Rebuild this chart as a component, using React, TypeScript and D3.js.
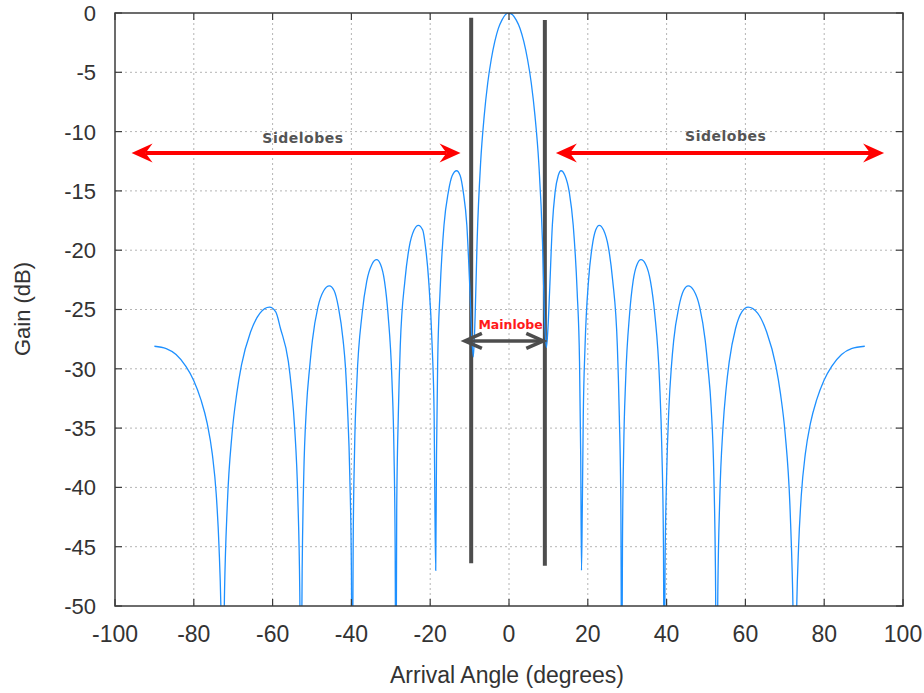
import React from 'react';
import * as d3 from 'd3';

// ---- data ----
const xTicks = [-100, -80, -60, -40, -20, 0, 20, 40, 60, 80, 100];
const yTicks = [0, -5, -10, -15, -20, -25, -30, -35, -40, -45, -50];

// [arrival angle (deg), gain (dB)] samples of the pattern, lobe by lobe
const leftEdgeLobe: [number, number][] = [
  [-90, -28.1], [-87, -28.3], [-84.5, -28.8], [-82, -29.8], [-80, -31.0], [-78.2, -32.6],
  [-76.6, -34.6], [-75.3, -37.2], [-74.3, -40.6], [-73.6, -45.0], [-73.1, -50.5], [-72.7, -60],
];
const leftLobe5: [number, number][] = [
  [-72.2, -48.8], [-71.5, -41.5], [-70.3, -35.5], [-69.1, -32.1], [-67.9, -29.7], [-65.6, -26.9],
  [-63.2, -25.3], [-60.8, -24.8], [-59.2, -25.2], [-58.0, -26.6], [-56.0, -29.4], [-55.2, -31.7],
  [-54.4, -35.0], [-53.6, -40.9], [-53.1, -48.8], [-52.8, -60],
];
const leftLobe4: [number, number][] = [
  [-52.5, -47.0], [-52.1, -39.1], [-51.4, -33.2], [-50.6, -29.9], [-49.9, -27.6], [-48.5, -24.8],
  [-47.0, -23.4], [-45.6, -23.0], [-44.4, -23.4], [-43.3, -24.8], [-42.1, -27.6], [-41.5, -29.9],
  [-41.0, -33.2], [-40.4, -39.1], [-40.0, -47.0], [-39.8, -60],
];
const leftLobe3: [number, number][] = [
  [-39.55, -44.8], [-39.2, -36.9], [-38.6, -31.0], [-37.3, -25.4], [-36.1, -22.6], [-34.8, -21.2],
  [-33.6, -20.8], [-32.6, -21.2], [-31.6, -22.6], [-30.7, -25.4], [-29.7, -31.0], [-29.2, -36.9],
  [-28.9, -44.8], [-28.7, -60],
];
const leftLobe2: [number, number][] = [
  [-28.5, -41.9], [-28.1, -34.0], [-27.6, -28.1], [-26.4, -22.5], [-25.3, -19.7], [-24.1, -18.3],
  [-23.0, -17.9], [-21.9, -18.3], [-21.2, -19.7], [-20.4, -22.5], [-19.5, -28.1], [-19.0, -34.0],
  [-18.8, -41.9], [-18.6, -47.0],
];
const leftLobe1: [number, number][] = [
  [-18.4, -37.3], [-18.1, -29.4], [-17.5, -23.5], [-16.5, -17.9], [-15.4, -15.1], [-14.4, -13.7],
  [-13.3, -13.3], [-12.4, -13.7], [-11.6, -15.1], [-10.7, -17.9], [-9.9, -23.5], [-9.4, -27.5],
  [-9.05, -29.0],
];
const mainLobe: [number, number][] = [
  [-8.6, -25.6], [-8.1, -19.3], [-7.2, -12.6], [-6.3, -8.7], [-5.4, -5.9], [-4.5, -3.9],
  [-3.6, -2.4], [-2.7, -1.3], [-1.8, -0.6], [-0.9, -0.14], [-0.1, 0], [0.9, -0.14], [1.85, -0.6],
  [2.8, -1.3], [3.75, -2.4], [4.7, -3.9], [5.65, -5.9], [6.6, -8.7], [7.55, -12.6], [8.5, -19.3],
  [9.0, -25.6], [9.5, -28.2],
];
const rightLobe1: [number, number][] = [
  [9.9, -26.5], [10.3, -23.5], [11.0, -17.9], [11.7, -15.1], [12.5, -13.7], [13.2, -13.3],
  [14.2, -13.7], [15.3, -15.1], [16.3, -17.9], [17.3, -23.5], [17.9, -29.4], [18.2, -37.3],
  [18.4, -47.0],
];
const rightLobe2: [number, number][] = [
  [18.6, -41.9], [18.85, -34.0], [19.3, -28.1], [20.2, -22.5], [21.1, -19.7], [22.0, -18.3],
  [22.9, -17.9], [24.0, -18.3], [25.2, -19.7], [26.3, -22.5], [27.5, -28.1], [28.0, -34.0],
  [28.4, -41.9], [28.6, -60],
];
const rightLobe3: [number, number][] = [
  [28.8, -44.8], [29.1, -36.9], [29.6, -31.0], [30.6, -25.4], [31.5, -22.6], [32.5, -21.2],
  [33.5, -20.8], [34.7, -21.2], [35.9, -22.6], [37.0, -25.4], [38.2, -31.0], [38.8, -36.9],
  [39.2, -44.8], [39.4, -60],
];
const rightLobe4: [number, number][] = [
  [39.6, -47.0], [40.0, -39.1], [40.6, -33.2], [41.2, -29.9], [41.8, -27.6], [43.1, -24.8],
  [44.3, -23.4], [45.5, -23.0], [46.9, -23.4], [48.4, -24.8], [49.8, -27.6], [50.5, -29.9],
  [51.3, -33.2], [52.0, -39.1], [52.4, -47.0], [52.7, -60],
];
const rightLobe5: [number, number][] = [
  [53.0, -48.8], [53.5, -40.9], [54.3, -35.0], [55.1, -31.7], [55.9, -29.4], [57.5, -26.6],
  [59.1, -25.2], [60.7, -24.8], [63.1, -25.3], [65.4, -26.9], [67.7, -29.7], [68.9, -32.1],
  [70.1, -35.5], [71.3, -41.5], [72.0, -48.8], [72.6, -60],
];
const rightEdgeLobe: [number, number][] = [
  [73.0, -50.5], [73.5, -45.0], [74.2, -40.6], [75.2, -37.2], [76.5, -34.6], [78.1, -32.6],
  [79.9, -31.0], [81.9, -29.8], [84.4, -28.8], [86.9, -28.3], [90.3, -28.1],
];

// Annotations (in data units)
const markerAngles = [-9.6, 9.1];
const markerTops = [-0.4, -0.6];
const markerBottoms = [-46.4, -46.6];

const sidelobeFrom = [-95.8, 11.9];
const sidelobeTo = [-12.3, 95.2];
const sidelobeLevel = -11.8;
const sidelobeLabelAngles = [-52.3, 55.0];
const sidelobeLabelLevels = [-11.0, -10.8];

const mainlobeFrom = -11.2;
const mainlobeTo = 8.7;
const mainlobeLevel = -27.65;
const mainlobeLabelAngle = 0.4;
const mainlobeLabelLevel = -26.67;

const W = 924;
const H = 693;
const M = { left: 115, right: 903, top: 13, bottom: 606 };

export default function App() {
  const x = d3.scaleLinear().domain([-100, 100]).range([M.left, M.right]);
  const y = d3.scaleLinear().domain([-50, 0]).range([M.bottom, M.top]);

  const pts: [number, number][] = [
    ...leftEdgeLobe, ...leftLobe5, ...leftLobe4, ...leftLobe3, ...leftLobe2, ...leftLobe1,
    ...mainLobe,
    ...rightLobe1, ...rightLobe2, ...rightLobe3, ...rightLobe4, ...rightLobe5, ...rightEdgeLobe,
  ];
  const line = d3
    .line<[number, number]>()
    .x((d) => x(d[0]))
    .y((d) => y(d[1]))
    .curve(d3.curveMonotoneX);

  const axisColor = '#3c3c3c';
  const gridColor = '#b4b4b4';
  const tickLen = 7;
  const font = '"Liberation Sans", Arial, sans-serif';
  const boldFont = '"DejaVu Sans", Verdana, sans-serif';

  const redHead = (tipX: number, tipY: number, dir: number) => {
    const L = 21;
    const Wd = 9.5;
    const N = 14;
    return `M${tipX},${tipY} L${tipX - dir * L},${tipY - Wd} L${tipX - dir * N},${tipY} L${tipX - dir * L},${tipY + Wd} Z`;
  };
  const grayHead = (tipX: number, tipY: number, dir: number) => {
    const L = 17;
    const Wd = 7.5;
    return `M${tipX - dir * L},${tipY - Wd} L${tipX},${tipY} L${tipX - dir * L},${tipY + Wd}`;
  };

  return (
    <svg
      width={W}
      height={H}
      style={{ position: 'absolute', left: 0, top: 0, display: 'block', background: '#fff' }}
    >
      <defs>
        <clipPath id="plotClip">
          <rect x={M.left} y={M.top} width={M.right - M.left} height={M.bottom - M.top} />
        </clipPath>
      </defs>

      {/* grid */}
      <g stroke={gridColor} strokeWidth={1} strokeDasharray="2,3">
        {xTicks
          .filter((t) => t !== -100 && t !== 100)
          .map((t) => (
            <line key={'gx' + t} x1={x(t)} x2={x(t)} y1={M.top} y2={M.bottom} />
          ))}
        {yTicks
          .filter((t) => t !== 0 && t !== -50)
          .map((t) => (
            <line key={'gy' + t} x1={M.left} x2={M.right} y1={y(t)} y2={y(t)} />
          ))}
      </g>

      {/* mainlobe boundary markers */}
      <g stroke="#4d4d4d" strokeWidth={4}>
        {markerAngles.map((a, i) => (
          <line key={'m' + i} x1={x(a)} x2={x(a)} y1={y(markerTops[i])} y2={y(markerBottoms[i])} />
        ))}
      </g>

      {/* gain curve */}
      <path
        d={line(pts) || ''}
        fill="none"
        stroke="#1e90ff"
        strokeWidth={1.3}
        clipPath="url(#plotClip)"
      />

      {/* frame */}
      <rect
        x={M.left}
        y={M.top}
        width={M.right - M.left}
        height={M.bottom - M.top}
        fill="none"
        stroke={axisColor}
        strokeWidth={1.5}
      />

      {/* ticks */}
      <g stroke={axisColor} strokeWidth={1.2}>
        {xTicks.map((t) => (
          <g key={'tx' + t}>
            <line x1={x(t)} x2={x(t)} y1={M.bottom} y2={M.bottom - tickLen} />
            <line x1={x(t)} x2={x(t)} y1={M.top} y2={M.top + tickLen} />
          </g>
        ))}
        {yTicks.map((t) => (
          <g key={'ty' + t}>
            <line x1={M.left} x2={M.left + tickLen} y1={y(t)} y2={y(t)} />
            <line x1={M.right} x2={M.right - tickLen} y1={y(t)} y2={y(t)} />
          </g>
        ))}
      </g>

      {/* tick labels */}
      <g fontFamily={font} fontSize={23} fill="#333">
        {xTicks.map((t) => (
          <text key={'lx' + t} x={x(t)} y={642} textAnchor="middle">
            {t}
          </text>
        ))}
      </g>
      <g fontFamily={font} fontSize={22} fill="#333">
        {yTicks.map((t) => (
          <text key={'ly' + t} x={96} y={y(t)} dy="0.36em" textAnchor="end">
            {t}
          </text>
        ))}
      </g>

      {/* axis titles */}
      <text x={507} y={683} textAnchor="middle" fontFamily={font} fontSize={23} fill="#333">
        Arrival Angle (degrees)
      </text>
      <text
        transform="translate(30,309) rotate(-90)"
        textAnchor="middle"
        fontFamily={font}
        fontSize={22}
        fill="#333"
      >
        Gain (dB)
      </text>

      {/* sidelobe arrows */}
      {sidelobeFrom.map((f, i) => {
        const x1 = x(f);
        const x2 = x(sidelobeTo[i]);
        const yy = y(sidelobeLevel);
        return (
          <g key={'sa' + i}>
            <line x1={x1 + 14} x2={x2 - 14} y1={yy} y2={yy} stroke="#ff0000" strokeWidth={4} />
            <path d={redHead(x1, yy, -1)} fill="#ff0000" />
            <path d={redHead(x2, yy, 1)} fill="#ff0000" />
            <text
              x={x(sidelobeLabelAngles[i])}
              y={y(sidelobeLabelLevels[i])}
              textAnchor="middle"
              fontFamily={boldFont}
              fontWeight="bold"
              fontSize={14}
              letterSpacing={0.5}
              fill="#555"
            >
              Sidelobes
            </text>
          </g>
        );
      })}

      {/* mainlobe arrow */}
      <g stroke="#4d4d4d" strokeWidth={3.5} fill="none">
        <line x1={x(mainlobeFrom) + 2} x2={x(mainlobeTo) - 2} y1={y(mainlobeLevel)} y2={y(mainlobeLevel)} />
        <path d={grayHead(x(mainlobeFrom), y(mainlobeLevel), -1)} />
        <path d={grayHead(x(mainlobeTo), y(mainlobeLevel), 1)} />
      </g>
      <text
        x={x(mainlobeLabelAngle)}
        y={y(mainlobeLabelLevel)}
        textAnchor="middle"
        fontFamily={boldFont}
        fontWeight="bold"
        fontSize={12.5}
        fill="#ff1a1a"
      >
        Mainlobe
      </text>
    </svg>
  );
}
